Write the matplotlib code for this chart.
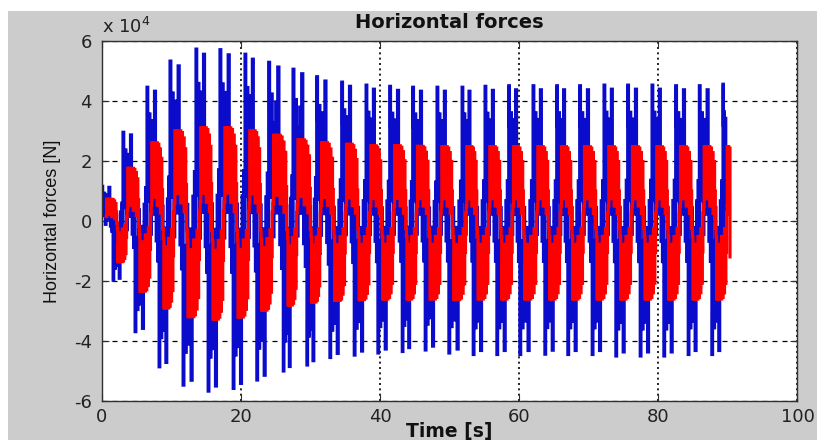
import matplotlib
matplotlib.use("Agg")
import matplotlib.pyplot as plt
from matplotlib.patches import Rectangle
from matplotlib.ticker import FuncFormatter

# start of each positive swing (s) and of each negative swing (s)
blue_top_t = [0.04, 3.06, 6.51, 9.82, 13.55, 17.0, 20.6, 24.0, 27.5, 30.9, 34.5, 38.0, 41.4, 44.7,
              48.2, 51.8, 55.1, 58.5, 62.0, 65.4, 68.7, 72.2, 75.6, 79.1, 82.5, 85.9, 89.3]
blue_bot_t = [1.64, 4.8, 8.25, 11.7, 15.3, 18.9, 22.3, 26.1, 29.5, 32.8, 36.3, 39.7, 43.2,
              46.5, 49.9, 53.4, 56.8, 60.1, 63.7, 67.0, 70.5, 73.9, 77.4, 80.8, 84.3, 87.7]

# peak values of each swing [N]
blue_top = [1.15e4, 2.95e4, 4.45e4, 5.32e4, 5.72e4, 5.70e4, 5.55e4, 5.28e4, 5.05e4, 4.80e4, 4.62e4,
            4.52e4, 4.48e4, 4.45e4, 4.45e4, 4.45e4, 4.48e4, 4.50e4, 4.50e4, 4.50e4, 4.50e4, 4.52e4,
            4.52e4, 4.52e4, 4.50e4, 4.50e4, 4.55e4]
blue_bot = [-1.97e4, -3.69e4, -4.86e4, -5.47e4, -5.67e4, -5.58e4, -5.30e4, -5.00e4, -4.80e4, -4.55e4,
            -4.47e4, -4.40e4, -4.35e4, -4.30e4, -4.40e4, -4.45e4, -4.45e4, -4.45e4, -4.44e4, -4.45e4,
            -4.45e4, -4.50e4, -4.50e4, -4.50e4, -4.45e4, -4.45e4]
red_top = [0.72e4, 1.75e4, 2.60e4, 3.00e4, 3.10e4, 3.10e4, 3.00e4, 2.85e4, 2.70e4, 2.60e4, 2.55e4,
           2.50e4, 2.50e4, 2.48e4, 2.47e4, 2.47e4, 2.47e4, 2.47e4, 2.47e4, 2.47e4, 2.47e4, 2.47e4,
           2.47e4, 2.47e4, 2.47e4, 2.47e4, 2.47e4]
red_bot = [-1.36e4, -2.34e4, -2.90e4, -3.19e4, -3.27e4, -3.20e4, -2.97e4, -2.80e4, -2.70e4, -2.65e4,
           -2.62e4, -2.60e4, -2.60e4, -2.60e4, -2.62e4, -2.60e4, -2.60e4, -2.60e4, -2.60e4, -2.60e4,
           -2.60e4, -2.60e4, -2.60e4, -2.60e4, -2.60e4, -2.60e4]
red_lag = 0.6  # red swings trail the blue ones [s]

# last samples of each record
blue_end = (90.0, 1.0e4)
red_end = (90.3, -1.2e4)

# shape of one swing: (fraction of swing, fraction of peak), drawn as steps
blue_shape = [(0.00, 1.00), (0.06, 0.70), (0.12, 0.15), (0.18, 0.80), (0.24, 0.40), (0.30, -0.10),
              (0.36, 0.62), (0.42, 0.25), (0.48, 0.75), (0.56, 0.05), (0.62, 0.97), (0.70, 0.45),
              (0.76, -0.15), (0.82, 0.30), (0.88, -0.30), (0.94, 0.10)]
red_shape = [(0.00, 0.20), (0.05, 1.00), (0.11, 0.60), (0.17, 1.00), (0.24, 0.30), (0.30, 0.95),
             (0.37, 0.70), (0.43, 1.00), (0.50, 0.20), (0.56, 0.98), (0.63, 0.60), (0.69, 0.92),
             (0.76, 0.10), (0.82, 0.80), (0.88, 0.40), (0.94, -0.10)]


def build(top_t, bot_t, tops, bots, shape, lag, end):
    xs, ys = [], []
    for k in range(len(tops)):
        t0 = top_t[k] + lag
        if k < len(bots):
            t1 = bot_t[k] + lag
        else:
            t1 = end[0]
        for u, f in shape:
            if k == len(tops) - 1 and u > 0.6:
                break
            xs.append(t0 + u * (t1 - t0))
            ys.append(f * tops[k])
        if k < len(bots):
            t2 = top_t[k + 1] + lag
            for u, f in shape:
                xs.append(t1 + u * (t2 - t1))
                ys.append(f * bots[k])
    xs.append(end[0])
    ys.append(end[1])
    return xs, ys


bx, by = build(blue_top_t, blue_bot_t, blue_top, blue_bot, blue_shape, 0.0, blue_end)
rx, ry = build(blue_top_t, blue_bot_t, red_top, red_bot, red_shape, red_lag, red_end)

fig = plt.figure(figsize=(8.17, 4.40), dpi=100, facecolor="white")
fig.patches.append(Rectangle((8 / 817, 0), 1, (440 - 11) / 440, transform=fig.transFigure,
                             facecolor="#cccccc", edgecolor="none", zorder=-10))
ax = fig.add_axes([0.1245, 0.0886, 0.8516, 0.8189])
ax.set_facecolor("white")

ax.plot(bx, by, color="#0b0bcc", lw=2.3, drawstyle="steps-post", solid_joinstyle="miter")
ax.plot(rx, ry, color="#ff0000", lw=2.3, drawstyle="steps-post", solid_joinstyle="miter")

ax.set_xlim(0, 100)
ax.set_ylim(-6e4, 6e4)
ax.set_xticks([0, 20, 40, 60, 80, 100])
ax.set_yticks([-6e4, -4e4, -2e4, 0, 2e4, 4e4, 6e4])
ax.yaxis.set_major_formatter(FuncFormatter(lambda v, p: "%d" % round(v / 1e4)))

ax.set_axisbelow(True)
ax.yaxis.grid(True, linestyle=(0, (4, 4)), color="black", lw=0.9)
ax.xaxis.grid(True, linestyle=(0, (1.2, 2.0)), color="black", lw=1.2)

for s in ax.spines.values():
    s.set_color("#303030")
    s.set_linewidth(1.0)
ax.tick_params(direction="in", length=5, top=True, right=True, color="#303030",
               labelsize=13, labelcolor="#222222")
ax.tick_params(axis="x", pad=5)
ax.tick_params(axis="y", pad=7)

ax.set_title("Horizontal forces", fontsize=14, fontweight="bold", pad=9.5, color="#111111")
ax.set_xlabel("Time [s]", fontsize=13.5, fontweight="bold", labelpad=-2.5, color="#111111")
ax.set_ylabel("Horizontal forces [N]", fontsize=13, family="Liberation Sans", labelpad=9,
              color="#111111")
ax.text(0, 1.021, r"x 10$^{4}$", transform=ax.transAxes, fontsize=13, ha="left",
        va="baseline", color="#222222")

fig.savefig("out.png", dpi=100, facecolor=fig.get_facecolor())
